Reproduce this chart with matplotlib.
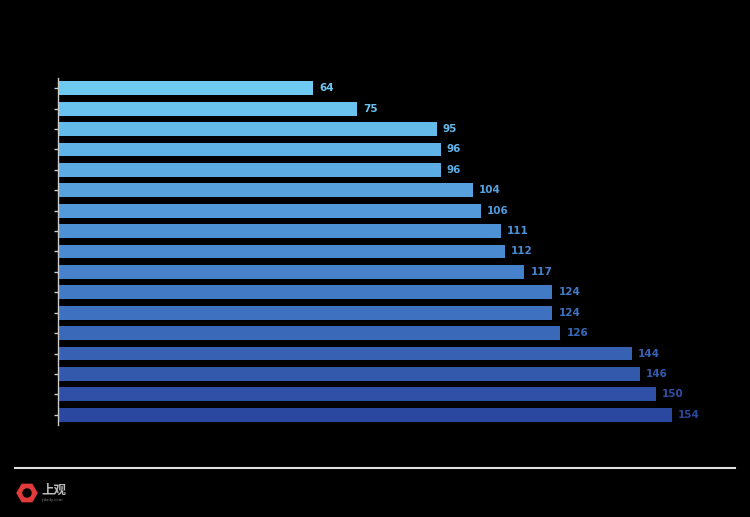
import matplotlib
matplotlib.use("Agg")
import matplotlib.pyplot as plt
import matplotlib.colors as mcolors
from matplotlib.patches import RegularPolygon, Circle
import numpy as np

plt.rcParams['font.family'] = ['Noto Sans CJK SC', 'DejaVu Sans']

categories = [f"item{i+1}" for i in range(17)]
values = [64, 75, 95, 96, 96, 104, 106, 111, 112, 117, 124, 124, 126, 144, 146, 150, 154]
value_labels = ["64", "75", "95", "96", "96", "104", "106", "111", "112", "117",
                "124", "124", "126", "144", "146", "150", "154"]

fig = plt.figure(figsize=(7.5, 5.17), dpi=100, facecolor="black")
ax = fig.add_axes([58/750, 1-425/517, 677/750, 347/517])
ax.set_facecolor("black")

c_top = np.array(mcolors.to_rgb("#6dcbf2"))
c_mid = np.array(mcolors.to_rgb("#4a8ad2"))
c_bot = np.array(mcolors.to_rgb("#2b48a0"))
n = len(values)
cols = []
for i in range(n):
    t = i / (n - 1)
    if t <= 0.5:
        c = c_top + (c_mid - c_top) * (t / 0.5)
    else:
        c = c_mid + (c_bot - c_mid) * ((t - 0.5) / 0.5)
    cols.append(c)

y = np.arange(n)
ax.barh(y, values, height=0.68, color=cols)
for yi, v, lab, c in zip(y, values, value_labels, cols):
    ax.text(v + 1.5, yi, lab, va="center", ha="left", fontsize=7.5,
            fontweight="bold", color=c, family="DejaVu Sans")

ax.set_ylim(n - 0.5, -0.5)
ax.set_xlim(0, 169.8)
ax.set_yticks(y)
ax.set_yticklabels(categories, color="black", fontsize=1)
ax.set_xticks([])
for s in ["top", "right", "bottom"]:
    ax.spines[s].set_visible(False)
ax.spines["left"].set_color("#cccccc")
ax.spines["left"].set_linewidth(1.0)
ax.tick_params(axis="y", colors="#cccccc", length=3, width=1, labelcolor="black")

# bottom rule
fig.add_artist(plt.Line2D([15/750, 735/750], [1-468/517, 1-468/517],
                          transform=fig.transFigure, color="#e0e0e0", lw=1.5))

# logo
lax = fig.add_axes([0, 0, 1, 1], facecolor="none")
lax.set_xlim(0, 750)
lax.set_ylim(517, 0)
lax.axis("off")
lax.add_patch(RegularPolygon((27, 493), numVertices=6, radius=10, orientation=np.pi/6,
                             color="#e03a3a"))
lax.add_patch(Circle((27, 493), 4, color="black"))
lax.text(41, 490, "上观", fontsize=9, color="#bbbbbb", va="center", ha="left",
         family=['Noto Sans CJK SC', 'DejaVu Sans'], fontweight="bold")
lax.text(41, 500, "jfdaily.com", fontsize=3, color="#888888", va="center", ha="left")

fig.savefig("out.png", dpi=100, facecolor="black")
